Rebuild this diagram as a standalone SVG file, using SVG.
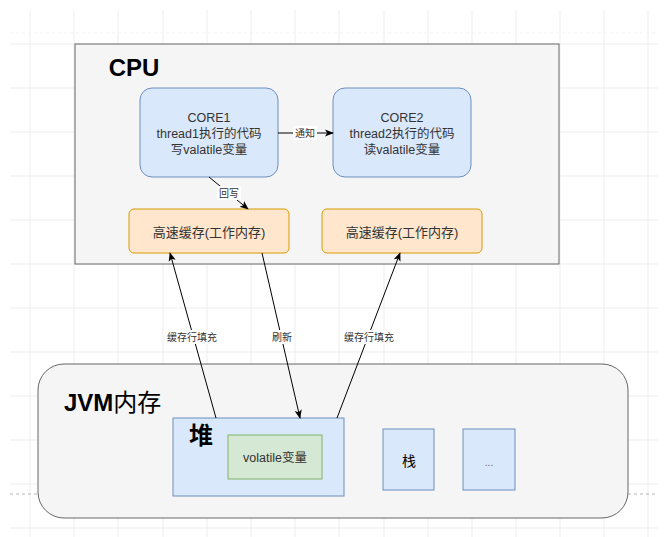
<svg xmlns="http://www.w3.org/2000/svg" width="664" height="537" viewBox="0 0 664 537">
<defs>
<style>
.grid line{stroke:#ededed;stroke-width:1}
.t{font-family:"Liberation Sans","Noto Sans CJK SC",sans-serif;fill:#333;text-anchor:middle;dominant-baseline:central}
.core{fill:#dae8fc;stroke:#6c8ebf;stroke-width:1}
.cache{fill:#ffe6cc;stroke:#d79b00;stroke-width:1}
.frame{fill:#f5f5f5;stroke:#666;stroke-width:1}
.edge{stroke:#000;stroke-width:1;fill:none;marker-end:url(#arr)}
.lbl{font-size:10px;fill:#333}
.bg{fill:#fff}
</style>
<marker id="arr" viewBox="0 0 10 10" refX="9" refY="5" markerWidth="9" markerHeight="9" orient="auto" markerUnits="userSpaceOnUse">
<path d="M0,1 L10,5 L0,9 L2.5,5 Z" fill="#000"/>
</marker>
</defs>
<rect width="664" height="537" fill="#fff"/>
<g class="grid">
<line x1="30" y1="10" x2="30" y2="537"/><line x1="74" y1="10" x2="74" y2="537"/><line x1="118" y1="10" x2="118" y2="537"/><line x1="163" y1="10" x2="163" y2="537"/><line x1="207" y1="10" x2="207" y2="537"/><line x1="251" y1="10" x2="251" y2="537"/><line x1="295" y1="10" x2="295" y2="537"/><line x1="339" y1="10" x2="339" y2="537"/><line x1="384" y1="10" x2="384" y2="537"/><line x1="428" y1="10" x2="428" y2="537"/><line x1="472" y1="10" x2="472" y2="537"/><line x1="516" y1="10" x2="516" y2="537"/><line x1="560" y1="10" x2="560" y2="537"/><line x1="604" y1="10" x2="604" y2="537"/><line x1="648" y1="10" x2="648" y2="537"/>
<line x1="10" y1="44" x2="658" y2="44"/><line x1="10" y1="88" x2="658" y2="88"/><line x1="10" y1="132" x2="658" y2="132"/><line x1="10" y1="176" x2="658" y2="176"/><line x1="10" y1="220" x2="658" y2="220"/><line x1="10" y1="264" x2="658" y2="264"/><line x1="10" y1="308" x2="658" y2="308"/><line x1="10" y1="352" x2="658" y2="352"/><line x1="10" y1="396" x2="658" y2="396"/><line x1="10" y1="440" x2="658" y2="440"/><line x1="10" y1="484" x2="658" y2="484"/><line x1="10" y1="528" x2="658" y2="528"/>
<line x1="10" y1="33" x2="658" y2="33" stroke-dasharray="3 3" style="stroke:#f3f3f3"/>
</g>
<line x1="10" y1="494" x2="658" y2="494" stroke="#b5b5b5" stroke-dasharray="3 3"/>

<g id="cpu">
<rect class="frame" x="75" y="44" width="484" height="220"/>
<text x="134" y="67" class="t" style="font-size:24px;font-weight:bold;fill:#000">CPU</text>
</g>
<g id="core1">
<rect class="core" x="140" y="88" width="138" height="89" rx="12"/>
<text class="t" style="font-size:12.5px"><tspan x="209" y="118">CORE1</tspan><tspan x="209" y="134">thread1执行的代码</tspan><tspan x="209" y="150">写valatile变量</tspan></text>
</g>
<g id="core2">
<rect class="core" x="333" y="88" width="138" height="89" rx="12"/>
<text class="t" style="font-size:12.5px"><tspan x="402" y="118">CORE2</tspan><tspan x="402" y="134">thread2执行的代码</tspan><tspan x="402" y="150">读valatile变量</tspan></text>
</g>
<g id="cache1">
<rect class="cache" x="129" y="209" width="160" height="44" rx="5"/>
<text x="209" y="232" class="t" style="font-size:13px">高速缓存(工作内存)</text>
</g>
<g id="cache2">
<rect class="cache" x="322" y="209" width="160" height="44" rx="5"/>
<text x="402" y="232" class="t" style="font-size:13px">高速缓存(工作内存)</text>
</g>

<g id="jvm">
<rect class="frame" x="38" y="364" width="590" height="154" rx="26"/>
<text x="64" y="402" style="font-family:'Liberation Sans','Noto Sans CJK SC',sans-serif;font-size:24px;font-weight:bold;fill:#000;dominant-baseline:central">JVM<tspan style="font-weight:normal">内存</tspan></text>
</g>
<g id="heap">
<rect class="core" x="173" y="418" width="171" height="78"/>
<text x="201" y="435" class="t" style="font-size:24px;fill:#000;font-weight:bold">堆</text>
</g>
<g id="volatile">
<rect x="228" y="435" width="94" height="44" fill="#d5e8d4" stroke="#82b366"/>
<text x="275" y="458" class="t" style="font-size:12.5px">volatile变量</text>
</g>
<g id="stack">
<rect class="core" x="383" y="429" width="51" height="61"/>
<text x="409" y="461" class="t" style="font-size:14px;fill:#000">栈</text>
</g>
<g id="other">
<rect class="core" x="463" y="429" width="52" height="61"/>
<text x="489" y="462" class="t" style="font-size:10px;fill:#666">...</text>
</g>

<g id="connectors">
<line class="edge" x1="278" y1="133" x2="333" y2="133"/>
<rect class="bg" x="293" y="126" width="24" height="14"/>
<text x="305" y="133" class="t lbl">通知</text>
<line class="edge" x1="209" y1="177" x2="248" y2="209"/>
<rect class="bg" x="217" y="186" width="24" height="14"/>
<text x="229" y="193" class="t lbl">回写</text>
<line class="edge" x1="216" y1="418" x2="170" y2="253"/>
<rect class="bg" x="166" y="330" width="52" height="14"/>
<text x="192" y="337" class="t lbl">缓存行填充</text>
<line class="edge" x1="262" y1="253" x2="300" y2="418"/>
<rect class="bg" x="270" y="330" width="24" height="14"/>
<text x="282" y="337" class="t lbl">刷新</text>
<line class="edge" x1="337" y1="418" x2="400" y2="253"/>
<rect class="bg" x="343" y="330" width="52" height="14"/>
<text x="369" y="337" class="t lbl">缓存行填充</text>
</g>
</svg>
